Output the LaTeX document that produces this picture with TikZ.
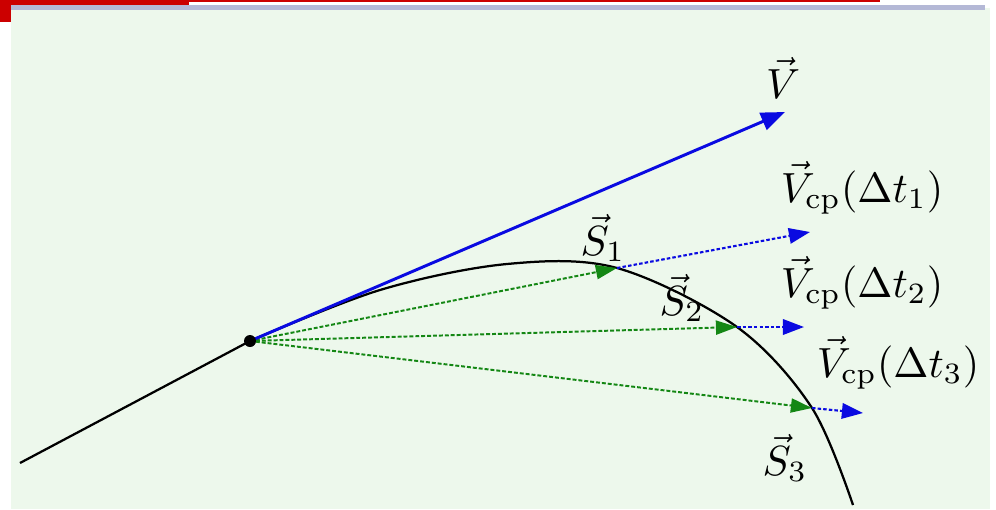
\documentclass[tikz,border=0pt]{standalone}
\usetikzlibrary{arrows.meta}
\definecolor{panel}{RGB}{237,248,236}
\definecolor{topred}{RGB}{204,0,0}
\definecolor{edge}{RGB}{180,184,214}
\definecolor{vblue}{RGB}{10,10,225}
\definecolor{sgreen}{RGB}{20,135,20}
\tikzset{
  lbl/.style={inner sep=0pt, scale=3.0},
  vvec/.style={vblue, line width=2.1pt, -{Triangle[length=17pt,width=13pt]}},
  cpvec/.style={vblue, line width=1.5pt, dash pattern=on 2.5pt off 1.5pt, -{Triangle[length=15pt,width=11pt]}},
  svec/.style={sgreen, line width=1.4pt, dash pattern=on 2.8pt off 1.4pt, -{Triangle[length=15pt,width=10pt]}},
  trajline/.style={black, line width=1.6pt}
}
\begin{document}
\begin{tikzpicture}[x=0.025cm, y=-0.025cm]
\useasboundingbox (0,0) rectangle (996,509);
% frame
\fill[white] (0,0) rectangle (996,509);
\fill[panel] (11,8) rectangle (990,509);
\fill[edge] (11,5) rectangle (985,10);
\fill[topred] (0,0) rectangle (189,4.5);
\fill[topred] (0,0) rectangle (11,22);
\draw[topred, line width=1.2pt] (189,1.2) -- (880,1.2);
% points
\coordinate (start) at (20,463);
\coordinate (P) at (250,341);
\coordinate (A1) at (617,268);
\coordinate (A2) at (737,327);
\coordinate (A3) at (812,408);
\coordinate (Vtip) at (785,112);
\coordinate (C1) at (810,232);
\coordinate (C2) at (804,327);
\coordinate (C3) at (863,413);
% trajectory
\draw[trajline] (start) -- (P);
\draw[trajline] plot[smooth, tension=0.55] coordinates {(250,341) (380,290) (507,264) (617,268) (737,327) (812,408) (853,505)};
% vectors
\draw[svec] (P) -- (A1);
\draw[svec] (P) -- (A2);
\draw[svec] (P) -- (A3);
\draw[cpvec] (A1) -- (C1);
\draw[cpvec] (A2) -- (C2);
\draw[cpvec] (A3) -- (C3);
\draw[vvec] (P) -- (Vtip);
\fill[black] (P) circle (6);
% labels
\node[lbl] (lV) at (783,78) {$\vec{V}$};
\node[lbl] (lC1) at (862,188) {$\vec{V}_{\mathrm{cp}}(\Delta t_1)$};
\node[lbl] (lC2) at (862,283) {$\vec{V}_{\mathrm{cp}}(\Delta t_2)$};
\node[lbl] (lC3) at (898,363) {$\vec{V}_{\mathrm{cp}}(\Delta t_3)$};
\node[lbl] (lS1) at (603,238) {$\vec{S}_1$};
\node[lbl] (lS2) at (682,298) {$\vec{S}_2$};
\node[lbl] (lS3) at (785,458) {$\vec{S}_3$};
\end{tikzpicture}
\end{document}
